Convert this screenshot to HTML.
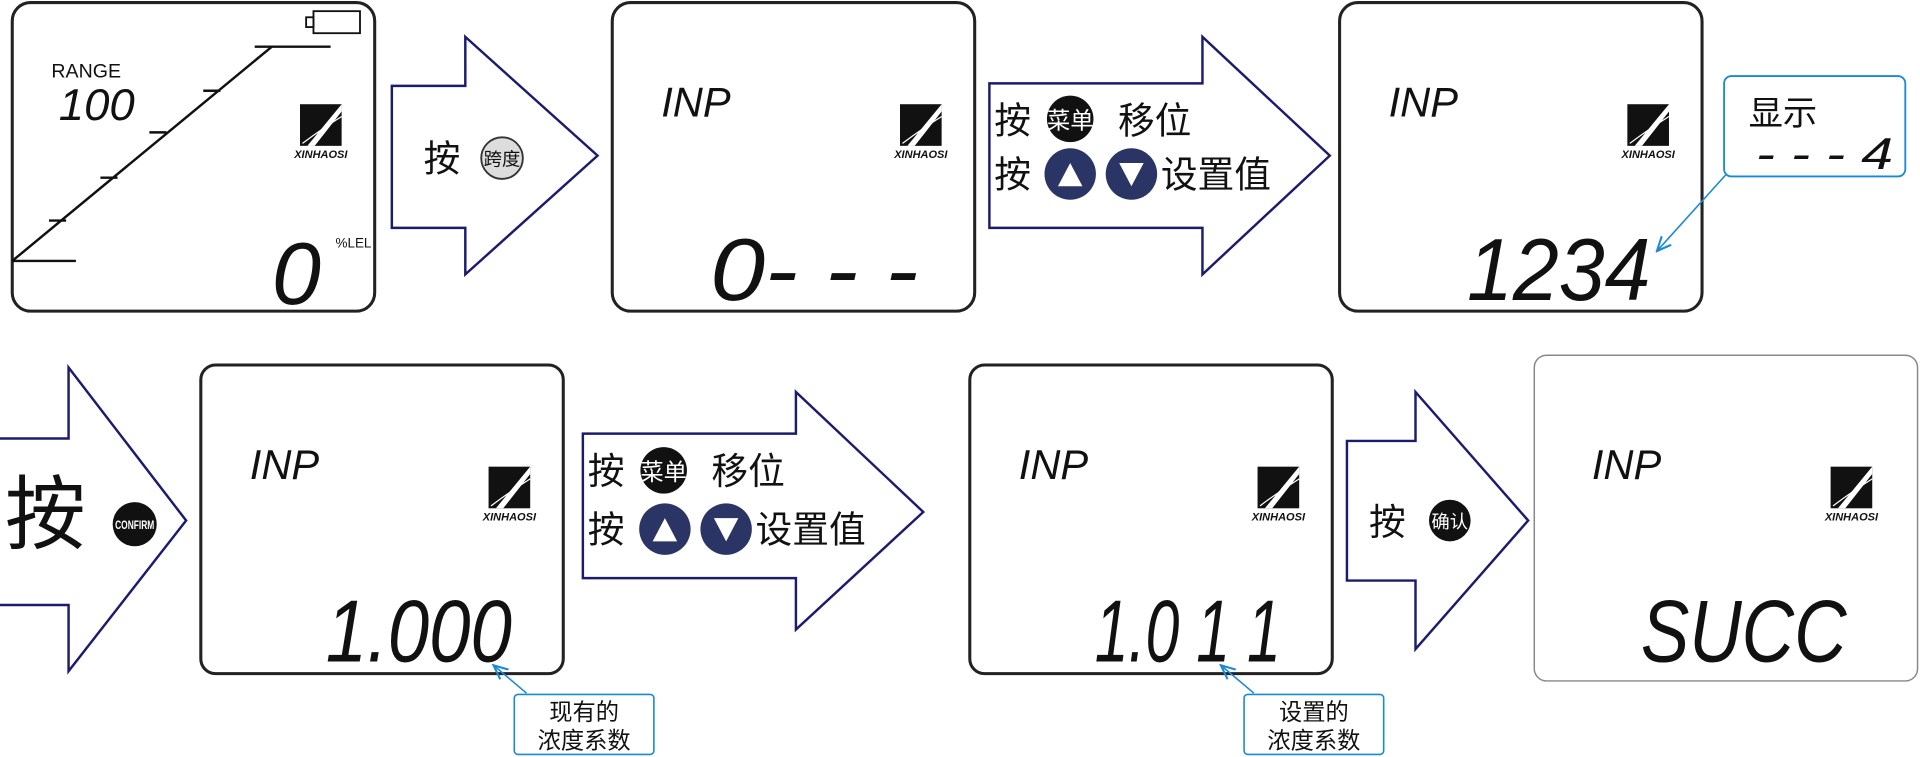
<!DOCTYPE html>
<html><head><meta charset="utf-8"><style>html,body{margin:0;padding:0;background:#fff}svg{display:block}</style></head>
<body>
<svg width="1920" height="757" viewBox="0 0 1568 618" xmlns="http://www.w3.org/2000/svg" font-family="Liberation Sans, Noto Sans CJK SC, sans-serif">
<defs>
<g id="logo">
<rect x="0" y="0" width="34" height="34" fill="#111"/>
<path d="M34 0 L6 34 L12 34 L34 6Z" fill="#fff"/>
<path d="M2 32 Q18 20 34 10" stroke="#fff" stroke-width="1" fill="none"/>
<text x="17" y="44" font-size="9" font-weight="bold" font-style="italic" text-anchor="middle" fill="#111">XINHAOSI</text>
</g>
<marker id="ar" markerWidth="10" markerHeight="10" refX="8" refY="5" orient="auto"><path d="M0 1 L9 5 L0 9" fill="none" stroke="#1a8ad4" stroke-width="1.3"/></marker>
</defs>
<g fill="none" stroke="#222" stroke-width="2.5">
<rect x="10" y="2" width="296" height="252" rx="15"/>
<rect x="500" y="2" width="296" height="252" rx="15"/>
<rect x="1094" y="2" width="296" height="252" rx="15"/>
<rect x="164" y="298" width="296" height="252" rx="12"/>
<rect x="792" y="298" width="296" height="252" rx="12"/>
</g>
<rect x="1253" y="290" width="313" height="266" rx="10" fill="none" stroke="#888" stroke-width="1.2"/>
<!-- panel 1 -->
<g stroke="#111" stroke-width="2" fill="none">
<path d="M10 213 L222 38 L270 38"/><path d="M10 213 L62 213"/>
<path d="M208 38 L222 38 M166 74 L180 74 M122 108 L136 108 M82 145 L96 145 M40 180 L54 180"/>
<rect x="256" y="9" width="38" height="18" stroke-width="1.5"/>
<rect x="250" y="14" width="6" height="8" stroke-width="1.5"/>
</g>
<text x="42" y="63" font-size="16" fill="#111">RANGE</text>
<text x="48" y="98" font-size="36" font-style="italic" fill="#111" textLength="62" lengthAdjust="spacingAndGlyphs">100</text>
<text x="222" y="248" font-size="72" font-style="italic" fill="#111">0</text>
<text x="274" y="202" font-size="11" fill="#111">%LEL</text>
<use href="#logo" x="245" y="85"/>
<!-- arrows -->
<g fill="#fff" stroke="#1c1c6e" stroke-width="2">
<path d="M320 70 L380 70 L380 30 L488 127 L380 224 L380 186 L320 186Z"/>
<path d="M808 68 L982 68 L982 30 L1086 127 L982 224 L982 186 L808 186Z"/>
<path d="M0 358 L56 358 L56 300 L152 425 L56 548 L56 494 L0 494"/>
<path d="M476 354 L650 354 L650 320 L754 418 L650 514 L650 472 L476 472Z"/>
<path d="M1100 360 L1156 360 L1156 320 L1248 425 L1156 530 L1156 474 L1100 474Z"/>
</g>
<text x="346" y="140" font-size="30" fill="#111">按</text>
<circle cx="410" cy="129" r="17" fill="#ddd" stroke="#333" stroke-width="1.5"/>
<text x="410" y="135" font-size="15" text-anchor="middle" fill="#111">跨度</text>
<!-- panel 2 -->
<text x="540" y="95" font-size="34" font-style="italic" fill="#111">INP</text>
<use href="#logo" x="735" y="85"/>
<text x="580" y="245" font-size="72" font-style="italic" fill="#111" textLength="170" lengthAdjust="spacingAndGlyphs">0- - -</text>
<!-- arrow2 text -->
<text x="812" y="109" font-size="30" fill="#111">按</text>
<circle cx="874" cy="97" r="19" fill="#111"/><text x="874" y="105" font-size="19" fill="#fff" text-anchor="middle">菜单</text>
<text x="913" y="109" font-size="30" fill="#111">移位</text>
<text x="812" y="153" font-size="30" fill="#111">按</text>
<circle cx="874" cy="142" r="21" fill="#2a3566"/><path d="M864 152 L884 152 L874 133Z" fill="#fff"/>
<circle cx="924" cy="142" r="21" fill="#2a3566"/><path d="M914 133 L934 133 L924 152Z" fill="#fff"/>
<text x="948" y="153" font-size="30" fill="#111">设置值</text>
<!-- panel 3 -->
<text x="1134" y="95" font-size="34" font-style="italic" fill="#111">INP</text>
<use href="#logo" x="1329" y="85"/>
<text x="1198" y="245" font-size="72" font-style="italic" fill="#111" textLength="150" lengthAdjust="spacingAndGlyphs">1234</text>
<rect x="1408" y="62" width="148" height="82" rx="6" fill="#fff" stroke="#1a8ad4" stroke-width="1.5"/>
<text x="1428" y="102" font-size="28" fill="#111">显示</text>
<text x="1434" y="138" font-size="36" font-style="italic" fill="#111" textLength="112" lengthAdjust="spacingAndGlyphs">- - - 4</text>
<line x1="1410" y1="142" x2="1354" y2="204" stroke="#1a8ad4" stroke-width="1.3" marker-end="url(#ar)"/>
<!-- arrow3 -->
<text x="4" y="443" font-size="66" fill="#111">按</text>
<circle cx="110" cy="428" r="18" fill="#111"/><text x="110" y="432" font-size="10" font-weight="bold" fill="#fff" text-anchor="middle" textLength="32" lengthAdjust="spacingAndGlyphs">CONFIRM</text>
<!-- panel 4 -->
<text x="204" y="391" font-size="34" font-style="italic" fill="#111">INP</text>
<use href="#logo" x="399" y="381"/>
<text x="266" y="540" font-size="72" font-style="italic" fill="#111" textLength="152" lengthAdjust="spacingAndGlyphs">1.000</text>
<!-- arrow4 text -->
<text x="480" y="395" font-size="30" fill="#111">按</text>
<circle cx="542" cy="384" r="19" fill="#111"/><text x="542" y="392" font-size="19" fill="#fff" text-anchor="middle">菜单</text>
<text x="581" y="395" font-size="30" fill="#111">移位</text>
<text x="480" y="443" font-size="30" fill="#111">按</text>
<circle cx="543" cy="432" r="21" fill="#2a3566"/><path d="M533 442 L553 442 L543 423Z" fill="#fff"/>
<circle cx="593" cy="432" r="21" fill="#2a3566"/><path d="M583 423 L603 423 L593 442Z" fill="#fff"/>
<text x="617" y="443" font-size="30" fill="#111">设置值</text>
<!-- panel 5 -->
<text x="832" y="391" font-size="34" font-style="italic" fill="#111">INP</text>
<use href="#logo" x="1027" y="381"/>
<text x="894" y="540" font-size="72" font-style="italic" fill="#111" textLength="152" lengthAdjust="spacingAndGlyphs">1.0 1 1</text>
<!-- arrow5 -->
<text x="1118" y="437" font-size="30" fill="#111">按</text>
<circle cx="1184" cy="425" r="17" fill="#111"/><text x="1184" y="431" font-size="15" fill="#fff" text-anchor="middle">确认</text>
<!-- panel 6 -->
<text x="1300" y="391" font-size="34" font-style="italic" fill="#111">INP</text>
<use href="#logo" x="1495" y="381"/>
<text x="1340" y="540" font-size="72" font-style="italic" fill="#111" textLength="168" lengthAdjust="spacingAndGlyphs">SUCC</text>
<!-- bottom callouts -->
<rect x="420" y="567" width="114" height="49" rx="3" fill="#fff" stroke="#1a8ad4" stroke-width="1.3"/>
<text x="477" y="588" font-size="19" text-anchor="middle" fill="#111">现有的</text>
<text x="477" y="611" font-size="19" text-anchor="middle" fill="#111">浓度系数</text>
<line x1="430" y1="566" x2="404" y2="544" stroke="#1a8ad4" stroke-width="1.3" marker-end="url(#ar)"/>
<rect x="1016" y="567" width="114" height="49" rx="3" fill="#fff" stroke="#1a8ad4" stroke-width="1.3"/>
<text x="1073" y="588" font-size="19" text-anchor="middle" fill="#111">设置的</text>
<text x="1073" y="611" font-size="19" text-anchor="middle" fill="#111">浓度系数</text>
<line x1="1024" y1="566" x2="998" y2="544" stroke="#1a8ad4" stroke-width="1.3" marker-end="url(#ar)"/>
</svg>
</body></html>
